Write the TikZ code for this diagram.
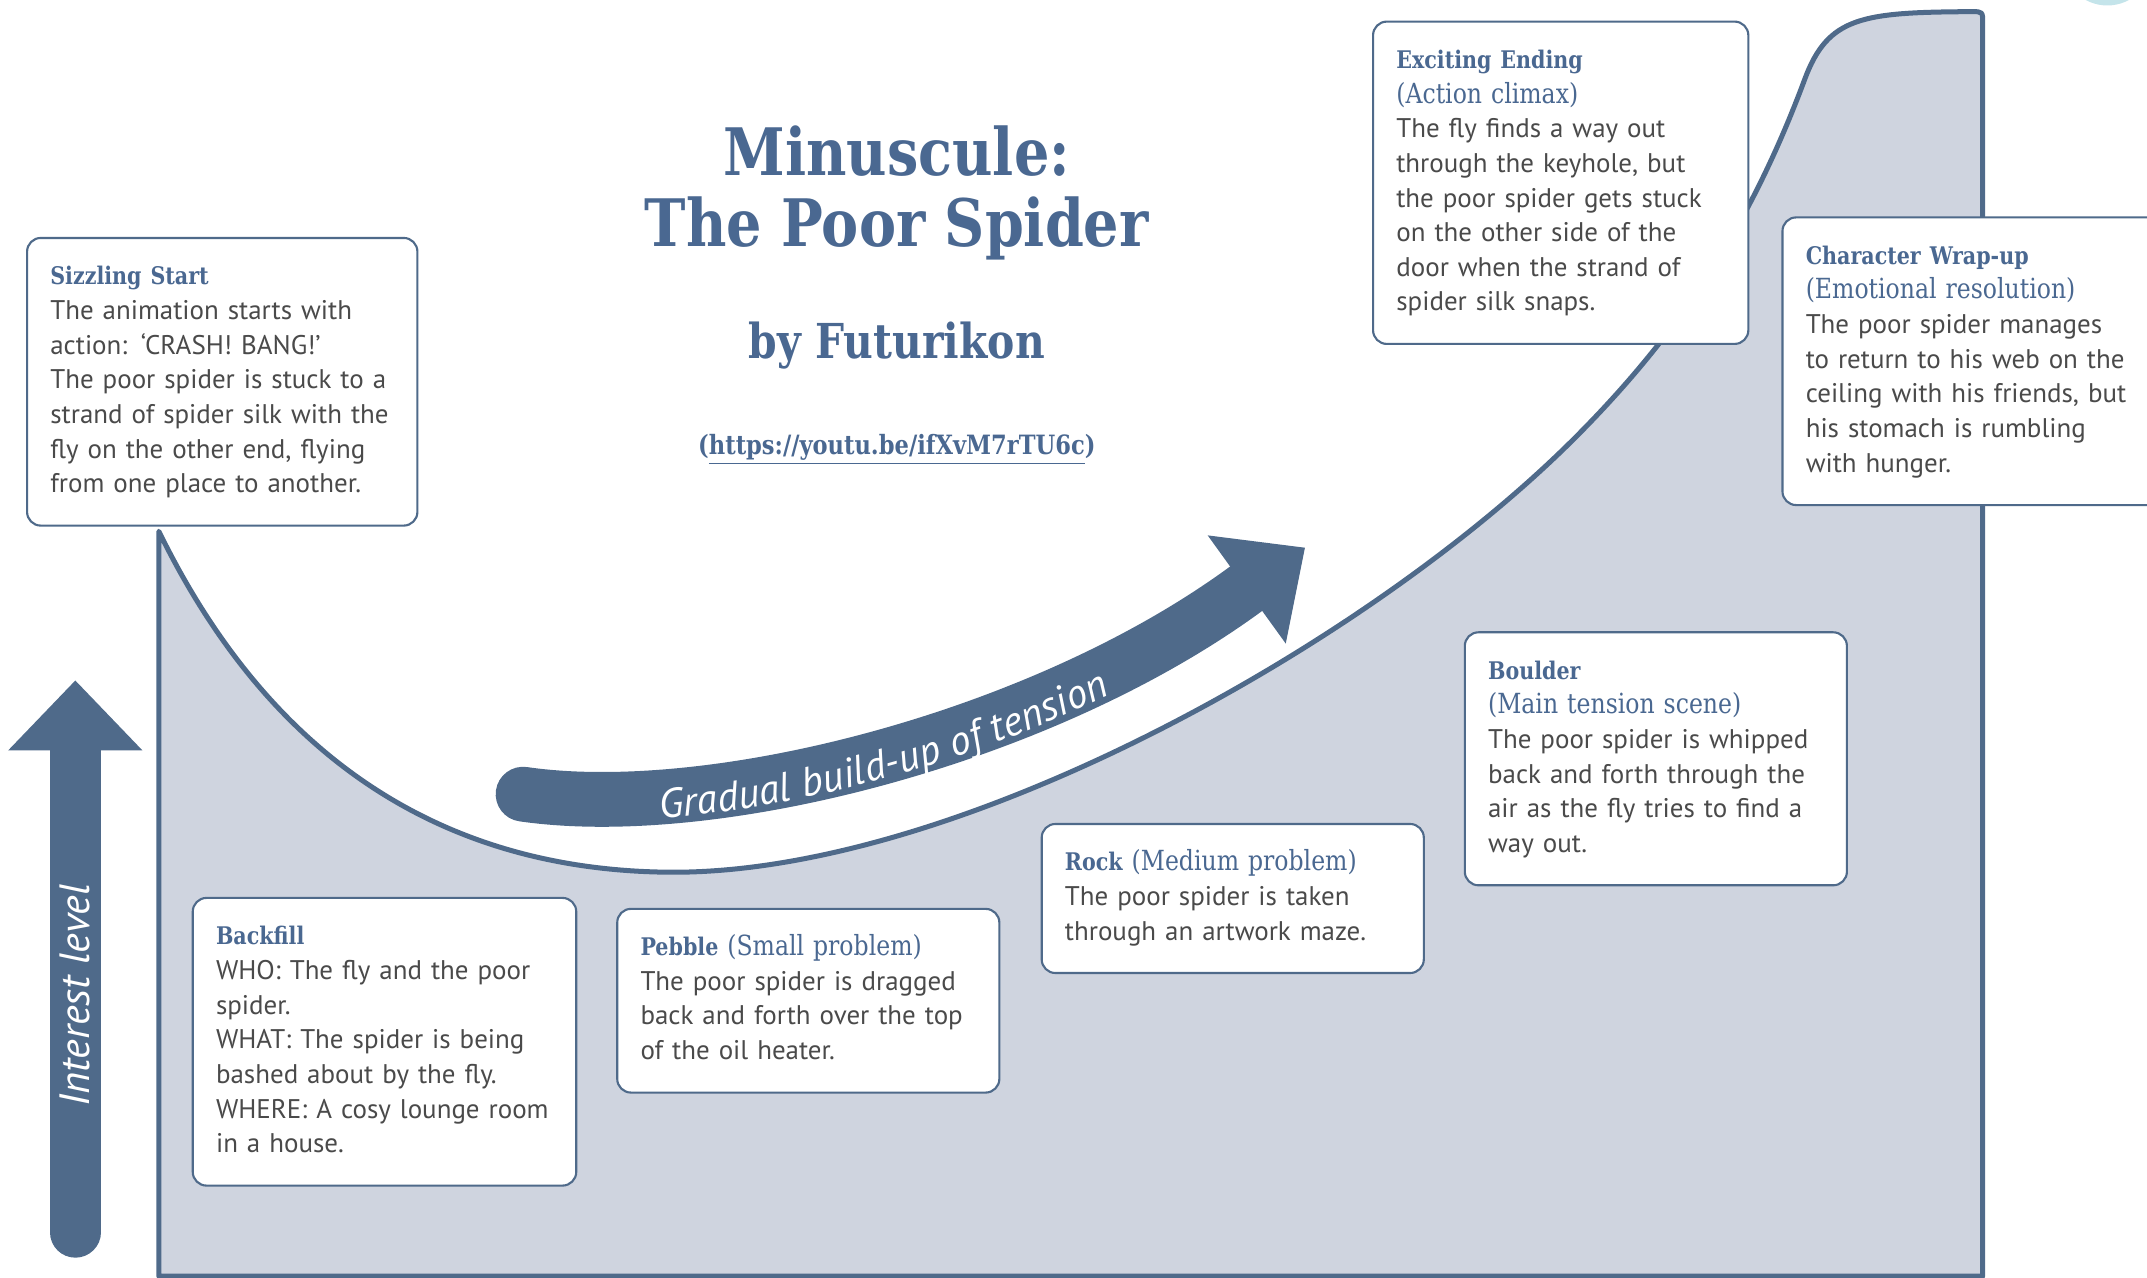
\documentclass[tikz,border=0pt]{standalone}
\usepackage{fontspec}
\setmainfont{PT Sans}
\newfontfamily\slabfont{DejaVu Serif}[FakeStretch=0.85]
\usetikzlibrary{decorations.text}
\definecolor{spiderblue}{HTML}{4F6A8A}
\definecolor{headblue}{HTML}{4A6891}
\definecolor{tensionfill}{HTML}{CFD4DF}
\definecolor{bodygray}{HTML}{4A4A4A}
\definecolor{webcyan}{HTML}{C4E4EA}
\newcommand{\beattitle}[1]{{\slabfont\bfseries\fontsize{12.6}{18}\selectfont\color{headblue}#1}}
\newcommand{\beatnote}[1]{{\slabfont\fontsize{14.4}{18}\selectfont\color{headblue}#1}}

\begin{document}
\begin{tikzpicture}[x=0.025cm, y=-0.025cm,
  beat/.style={draw=spiderblue, line width=1.1pt, rounded corners=0.25cm, fill=white,
    anchor=north west, align=left, inner xsep=0.425cm, inner ysep=11.7pt,
    text=bodygray, font=\fontsize{14}{18}\selectfont},
  bigtitle/.style={anchor=base, text=headblue, font=\slabfont\bfseries\fontsize{34}{40}\selectfont},
  sidetext/.style={text=white, font=\itshape\fontsize{22}{26}\selectfont}]
  \useasboundingbox (0,0) rectangle (1568,933);
  \fill[webcyan] (1539,-29) circle (33);

  \filldraw[fill=tensionfill, draw=spiderblue, line width=2.6pt, line join=round]
    (116,932) -- (116,388)
    .. controls (200,560) and (330,636) .. (490,637)
    .. controls (700,638) and (1000,470) .. (1150,320)
    .. controls (1230,240) and (1280,160) .. (1318,58)
    .. controls (1335,12) and (1360,9) .. (1440,8.5)
    .. controls (1448,8.5) .. (1448,17) -- (1448,932) -- cycle;

  \coordinate (tail) at (382,580);
  \coordinate (headbase) at (910,430);
  \draw[spiderblue, line width=1cm, line cap=round] (tail) .. controls (520,600) and (760,540) .. (headbase);
  \fill[spiderblue] (882,391) -- (953,400) -- (939,470) -- cycle;
  \path[decorate, decoration={text along path, text align={align=center, right indent=0.6cm},
    raise=-11pt, text color=white,
    text={|\itshape\fontsize{21.5}{26}\selectfont|Gradual build-up of tension}}]
    (tail) .. controls (520,600) and (760,540) .. (headbase);

  \coordinate (levelbase) at (55,900);
  \coordinate (levelneck) at (55,549);
  \draw[spiderblue, line width=0.925cm, line cap=round] (levelbase) -- (levelneck);
  \fill[spiderblue] (6,548) -- (104,548) -- (55,497) -- cycle;
  \node[sidetext, rotate=90] (interest) at (55,727) {Interest level};

  \node[bigtitle] (title) at (655,128) {Minuscule:};
  \node[bigtitle] (subtitle) at (655,180) {The Poor Spider};
  \node[bigtitle, font=\slabfont\bfseries\fontsize{25}{30}\selectfont] (byline) at (655,262) {by Futurikon};
  \node[bigtitle, font=\slabfont\bfseries\fontsize{13.8}{16}\selectfont] (link) at (655,332) {(\underline{https://youtu.be/ifXvM7rTU6c})};

  \node[beat, text width=6.275cm] (sizzle) at (19,173) {\strut\beattitle{Sizzling Start}\\
    The animation starts with\\action: ‘CRASH! BANG!’\\The poor spider is stuck to a\\
    strand of spider silk with the\\fly on the other end, flying\\from one place to another.\strut};
  \node[beat, text width=6.15cm] (backfill) at (140,655) {\strut\beattitle{Backfill}\\
    WHO: The fly and the poor\\spider.\\WHAT: The spider is being\\bashed about by the fly.\\
    WHERE: A cosy lounge room\\in a house.\strut};
  \node[beat, text width=6.125cm] (pebble) at (450,663) {\strut\beattitle{Pebble} \beatnote{(Small problem)}\\
    The poor spider is dragged\\back and forth over the top\\of the oil heater.\strut};
  \node[beat, text width=6.125cm] (rock) at (760,601) {\strut\beattitle{Rock} \beatnote{(Medium problem)}\\
    The poor spider is taken\\through an artwork maze.\strut};
  \node[beat, text width=6.125cm] (boulder) at (1069,461) {\strut\beattitle{Boulder}\\
    \beatnote{(Main tension scene)}\\The poor spider is whipped\\back and forth through the\\
    air as the fly tries to find a\\way out.\strut};
  \node[beat, text width=6cm] (ending) at (1002,15) {\strut\beattitle{Exciting Ending}\\
    \beatnote{(Action climax)}\\The fly finds a way out\\through the keyhole, but\\
    the poor spider gets stuck\\on the other side of the\\door when the strand of\\spider silk snaps.\strut};
  \node[beat, text width=6.125cm] (wrapup) at (1301,158) {\strut\beattitle{Character Wrap-up}\\
    \beatnote{(Emotional resolution)}\\The poor spider manages\\to return to his web on the\\
    ceiling with his friends, but\\his stomach is rumbling\\with hunger.\strut};
\end{tikzpicture}
\end{document}
